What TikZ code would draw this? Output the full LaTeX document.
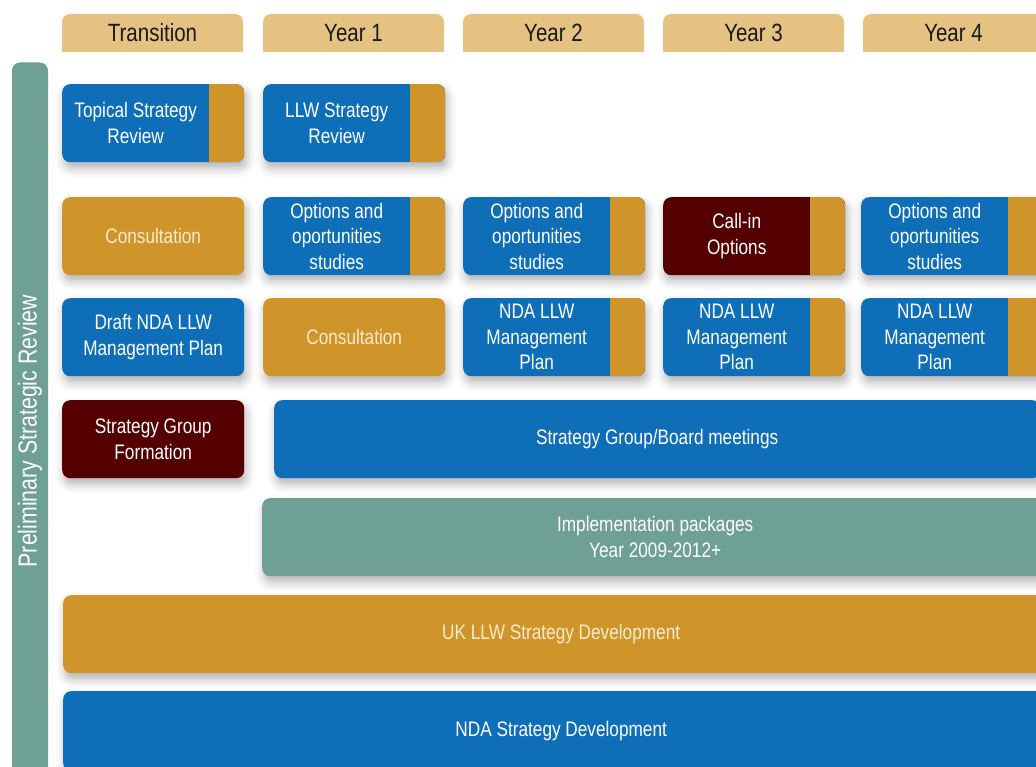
\documentclass[tikz,border=0pt]{standalone}
\usepackage{fontspec}
\setmainfont[FakeStretch=0.82]{Liberation Sans}
\usetikzlibrary{shadows.blur}

\definecolor{ndablue}{RGB}{14,110,184}
\definecolor{llwgold}{RGB}{208,149,42}
\definecolor{goldtext}{RGB}{250,236,204}
\definecolor{callred}{RGB}{84,0,0}
\definecolor{implteal}{RGB}{111,160,149}
\definecolor{tabtan}{RGB}{229,194,130}

% text of a card with the gold strip on its right
\newcommand{\striptext}[1]{\parbox{145pt}{\centering #1}\hspace*{35pt}}

\tikzset{
    tab/.style={font=\fontsize{25}{28}\selectfont, text=black!90},
    card/.style={anchor=north west, rounded corners=8pt, minimum width=182pt,
        minimum height=78pt, inner sep=1pt, align=center, text=white,
        font=\fontsize{21}{25.5}\selectfont,
        blur shadow={shadow xshift=2pt, shadow yshift=-6pt, shadow blur radius=9pt, shadow opacity=30}},
    bluecard/.style={card, fill=ndablue},
    goldcard/.style={card, fill=llwgold, text=goldtext},
    redcard/.style={card, fill=callred},
    striped/.style={path picture={
        \fill[llwgold, sharp corners] ([xshift=-35pt]path picture bounding box.north east)
            rectangle (path picture bounding box.south east);}},
    bar/.style={card, minimum width=0pt},
    sidebar/.style={rotate=90, fill=implteal, rounded corners=8pt, minimum width=737pt,
        minimum height=36pt, inner sep=0pt, text=white, font=\fontsize{26}{30}\selectfont}
}

\begin{document}
\begin{tikzpicture}[x=1pt, y=-1pt]
    \useasboundingbox (0,0) rectangle (1036,767);

    %year tabs
    \foreach \x/\yr [count=\i] in {62/Transition, 263/Year 1, 463/Year 2, 663/Year 3, 863/Year 4} {
        \fill[tabtan, rounded corners=8pt] (\x,14) rectangle ++(181,38);
        \fill[tabtan] (\x,30) rectangle ++(181,22);
        \node[tab] (tab\i) at (\x+90.5,33) {\yr};
    }

    %left bar
    \node[sidebar] (prelim) at (30,431) {Preliminary Strategic Review};

    %reviews
    \node[bluecard, striped] (topical) at (62,84) {\striptext{Topical Strategy\\Review}};
    \node[bluecard, striped] (llwrev) at (263,84) {\striptext{LLW Strategy\\Review}};

    %options row
    \node[goldcard] (consult0) at (62,197) {Consultation};
    \node[bluecard, striped] (opt1) at (263,197) {\striptext{Options and\\oportunities\\studies}};
    \node[bluecard, striped] (opt2) at (463,197) {\striptext{Options and\\oportunities\\studies}};
    \node[redcard, striped] (callin) at (663,197) {\striptext{Call-in\\Options}};
    \node[bluecard, striped] (opt4) at (861,197) {\striptext{Options and\\oportunities\\studies}};

    %plans row
    \node[bluecard] (draft) at (62,298) {Draft NDA LLW\\Management Plan};
    \node[goldcard] (consult1) at (263,298) {Consultation};
    \node[bluecard, striped] (plan2) at (463,298) {\striptext{NDA LLW\\Management\\Plan}};
    \node[bluecard, striped] (plan3) at (663,298) {\striptext{NDA LLW\\Management\\Plan}};
    \node[bluecard, striped] (plan4) at (861,298) {\striptext{NDA LLW\\Management\\Plan}};

    %strategy group
    \node[redcard] (sgform) at (62,400) {Strategy Group\\Formation};
    \node[bar, fill=ndablue, minimum width=766pt] (board) at (274,400) {Strategy Group/Board meetings};

    %long bars
    \node[bar, fill=implteal, minimum width=786pt] (impl) at (262,498) {Implementation packages\\Year 2009-2012+};
    \node[bar, fill=llwgold, text=goldtext, minimum width=996pt] (ukllw) at (63,595) {UK LLW Strategy Development};
    \node[bar, fill=ndablue, minimum width=996pt, minimum height=80pt] (ndadev) at (63,691) {NDA Strategy Development};
\end{tikzpicture}
\end{document}
